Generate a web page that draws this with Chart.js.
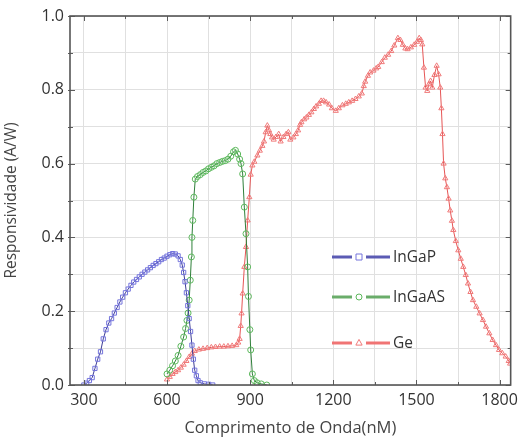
<!DOCTYPE html>
<html><head><meta charset="utf-8">
<script src="https://cdn.jsdelivr.net/npm/chart.js@4.4.1/dist/chart.umd.min.js"></script>
<style>html,body{margin:0;padding:0;background:#fff;} #wrap{position:relative;width:524px;height:441px;}</style>
</head><body><div id="wrap"><canvas id="c" width="524" height="441"></canvas></div>
<script>
const seriesNames = ['InGaP', 'InGaAS', 'Ge'];

const ingapX = [300,310,320,330,340,350,360,370,380,390,400,410,420,430,440,450,460,470,480,490,500,510,520,530,540,550,560,570,580,590,600,610,620,630,640,648,655,660,665,670,675,680,685,690,695,700,706,712,720,735,750,765];
const ingapY = [0.0,0.005,0.012,0.02,0.045,0.07,0.09,0.125,0.15,0.168,0.18,0.195,0.21,0.225,0.238,0.25,0.26,0.27,0.279,0.286,0.293,0.3,0.306,0.312,0.318,0.324,0.329,0.334,0.34,0.344,0.349,0.353,0.356,0.355,0.35,0.34,0.325,0.305,0.28,0.25,0.215,0.18,0.145,0.108,0.07,0.04,0.025,0.012,0.006,0.003,0.002,0.0];

const ingaasX = [600,610,620,630,640,650,660,667,672,676,680,684,688,690,693,697,702,710,720,730,740,750,760,770,780,790,800,810,820,830,840,847,855,862,867,873,879,885,891,894,899,902,908,915,925,940,960];
const ingaasY = [0.03,0.04,0.052,0.065,0.08,0.105,0.13,0.153,0.175,0.195,0.23,0.284,0.347,0.40,0.446,0.509,0.558,0.565,0.57,0.576,0.58,0.586,0.59,0.594,0.6,0.603,0.606,0.608,0.612,0.62,0.632,0.636,0.626,0.612,0.6,0.572,0.482,0.41,0.32,0.24,0.15,0.095,0.03,0.012,0.006,0.003,0.0];

const geX = [600,610,620,630,640,650,660,670,680,690,700,715,730,745,760,775,790,805,820,835,850,857,862,866,869,873,879,885,891,897,902,908,915,926,935,944,950,956,962,968,973,979,985,993,1003,1010,1020,1030,1038,1045,1056,1065,1073,1080,1085,1095,1103,1112,1121,1130,1138,1148,1156,1165,1174,1185,1195,1209,1220,1233,1245,1256,1268,1280,1292,1303,1310,1315,1325,1333,1345,1355,1362,1375,1386,1398,1409,1420,1433,1442,1451,1460,1468,1480,1492,1502,1510,1516,1521,1527,1533,1539,1545,1551,1557,1565,1573,1580,1586,1590,1594,1598,1604,1610,1616,1622,1628,1633,1642,1651,1660,1669,1678,1686,1695,1704,1716,1728,1740,1751,1763,1775,1787,1798,1810,1822,1833,1838];
const geY = [0.015,0.022,0.03,0.035,0.04,0.047,0.055,0.065,0.076,0.085,0.092,0.096,0.098,0.1,0.102,0.103,0.104,0.104,0.105,0.106,0.108,0.115,0.125,0.16,0.194,0.248,0.32,0.374,0.446,0.509,0.57,0.595,0.605,0.622,0.635,0.648,0.66,0.685,0.703,0.69,0.68,0.671,0.665,0.672,0.68,0.66,0.672,0.68,0.685,0.665,0.671,0.68,0.69,0.705,0.712,0.72,0.725,0.732,0.739,0.748,0.755,0.762,0.77,0.77,0.766,0.76,0.75,0.743,0.75,0.758,0.762,0.766,0.77,0.775,0.782,0.79,0.81,0.822,0.838,0.847,0.852,0.858,0.862,0.875,0.887,0.895,0.905,0.92,0.94,0.935,0.922,0.912,0.91,0.915,0.922,0.93,0.94,0.935,0.923,0.86,0.806,0.797,0.815,0.824,0.806,0.84,0.865,0.842,0.806,0.75,0.68,0.6,0.56,0.536,0.505,0.473,0.445,0.42,0.39,0.365,0.342,0.32,0.298,0.275,0.252,0.23,0.212,0.194,0.176,0.158,0.14,0.122,0.108,0.095,0.086,0.077,0.065,0.058];

const xGridValues = [300,450,600,750,900,1050,1200,1350,1500,1650,1800];
const xTickLabels = ['300','600','900','1200','1500','1800'];
const yGridValues = [0,0.1,0.2,0.3,0.4,0.5,0.6,0.7,0.8,0.9,1.0];
const yTickLabels = ['0.0','0.2','0.4','0.6','0.8','1.0'];
const xTitle = 'Comprimento de Onda(nM)';
const yTitle = 'Responsividade (A/W)';

const styles = [
  {line:'#3d3d96', point:'#7474dc', legend:'#5b5bb4', shape:'rect'},
  {line:'#2f7f3a', point:'#5cb85c', legend:'#6aad6a', shape:'circle'},
  {line:'#e65555', point:'#f07a7a', legend:'#f07474', shape:'triangle'}
];

function pts(xs, ys){ return xs.map((x,i)=>({x:x, y:ys[i]})); }
const seriesData = [pts(ingapX, ingapY), pts(ingaasX, ingaasY), pts(geX, geY)];

Chart.defaults.font.family = "'Open Sans', sans-serif";

function drawMarker(ctx, shape, x, y, r){
  ctx.beginPath();
  if (shape === 'rect') { ctx.rect(x-r, y-r, 2*r, 2*r); }
  else if (shape === 'circle') { ctx.arc(x, y, r, 0, Math.PI*2); }
  else { ctx.moveTo(x, y-r*1.2); ctx.lineTo(x+r*1.05, y+r*0.7); ctx.lineTo(x-r*1.05, y+r*0.7); ctx.closePath(); }
  ctx.stroke();
}

const framePlugin = {
  id: 'frame',
  afterDatasetsDraw(chart){
    const {ctx, chartArea:a, scales} = chart;
    ctx.save();
    ctx.strokeStyle = '#5c5c5c';
    ctx.lineWidth = 1;
    xGridValues.forEach(v=>{
      const px = Math.round(scales.x.getPixelForValue(v))+0.5;
      const major = xTickLabels.includes(String(v));
      const L = major ? 5 : 3;
      ctx.beginPath(); ctx.moveTo(px, a.bottom); ctx.lineTo(px, a.bottom-L); ctx.stroke();
      ctx.beginPath(); ctx.moveTo(px, a.top); ctx.lineTo(px, a.top+L); ctx.stroke();
    });
    yGridValues.forEach(v=>{
      const py = Math.round(scales.y.getPixelForValue(v))+0.5;
      const major = yTickLabels.includes(v.toFixed(1));
      const L = major ? 5 : 3;
      ctx.beginPath(); ctx.moveTo(a.left-2, py); ctx.lineTo(a.left+L, py); ctx.stroke();
      ctx.beginPath(); ctx.moveTo(a.right, py); ctx.lineTo(a.right-L, py); ctx.stroke();
    });
    ctx.lineWidth = 1.6;
    ctx.strokeStyle = '#555';
    ctx.strokeRect(a.left, a.top, a.right-a.left, a.bottom-a.top);
    // legend
    const legendYs = [257, 297, 343];
    const lx1 = 332, lx2 = 390, mx = 359;
    ctx.font = "15.5px 'Open Sans', sans-serif";
    ctx.textBaseline = 'middle';
    seriesNames.forEach((name, i)=>{
      const y = legendYs[i];
      const s = styles[i];
      ctx.strokeStyle = s.legend;
      ctx.lineWidth = 3;
      ctx.beginPath(); ctx.moveTo(lx1, y); ctx.lineTo(mx-7, y); ctx.stroke();
      ctx.beginPath(); ctx.moveTo(mx+7, y); ctx.lineTo(lx2, y); ctx.stroke();
      ctx.lineWidth = 1;
      ctx.strokeStyle = s.point;
      drawMarker(ctx, s.shape, mx, y, 3);
      ctx.fillStyle = '#333';
      ctx.fillText(name, 393, y+1);
    });
    ctx.restore();
  }
};

new Chart(document.getElementById('c'), {
  type: 'scatter',
  data: {
    datasets: seriesNames.map((name, i)=>({
      label: name,
      data: seriesData[i],
      showLine: true,
      borderColor: styles[i].line,
      borderWidth: 1,
      pointStyle: styles[i].shape,
      pointRadius: 3,
      pointBorderColor: styles[i].point,
      pointBackgroundColor: 'rgba(255,255,255,0)',
      pointBorderWidth: 1,
      tension: 0
    }))
  },
  options: {
    responsive: false,
    animation: false,
    devicePixelRatio: 1,
    layout: {padding: {top: 16, right: 5, left: 0, bottom: 0}},
    plugins: {legend: {display: false}, tooltip: {enabled: false}},
    scales: {
      x: {
        type: 'linear', min: 250, max: 1840,
        afterBuildTicks: s => { s.ticks = xGridValues.map(v=>({value:v})); },
        afterFit: s => { s.height = 56; },
        grid: {color: '#e0e0e0', lineWidth: 1, drawTicks: false},
        border: {display: false},
        ticks: {
          autoSkip: false, maxRotation: 0, padding: 6,
          color: '#333', font: {size: 16},
          callback: v => xTickLabels.includes(String(v)) ? String(v) : ''
        },
        title: {display: true, text: xTitle, color: '#444', font: {size: 16.5}, padding: {top: 0, bottom: 3}}
      },
      y: {
        type: 'linear', min: 0, max: 1.0,
        afterBuildTicks: s => { s.ticks = yGridValues.map(v=>({value:v})); },
        afterFit: s => { s.width = 70; },
        grid: {color: '#e0e0e0', lineWidth: 1, drawTicks: false},
        border: {display: false},
        ticks: {
          autoSkip: false, padding: 6,
          color: '#333', font: {size: 16},
          callback: v => yTickLabels.includes(Number(v).toFixed(1)) ? Number(v).toFixed(1) : ''
        },
        title: {display: true, text: yTitle, color: '#444', font: {size: 15.5}, padding: {top: 2, bottom: 0}}
      }
    }
  },
  plugins: [framePlugin]
});
</script></body></html>
